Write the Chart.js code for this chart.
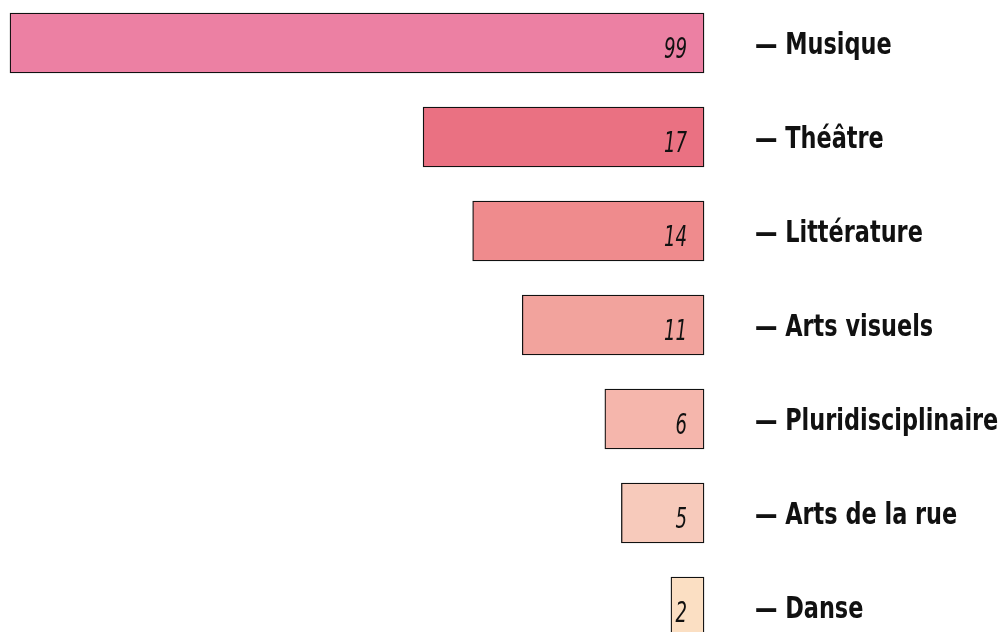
<!DOCTYPE html>
<html>
<head>
<meta charset="utf-8">
<script src="https://cdn.jsdelivr.net/npm/chart.js@4/dist/chart.umd.min.js"></script>
<style>
	html, body { margin: 0; padding: 0; background: #fff; overflow: hidden; width: 1006px; height: 632px; }
	#chart-box { position: absolute; left: 0; top: -4px; width: 1006px; height: 658px; }
</style>
</head>
<body>
<div id="chart-box"><canvas id="myChart" width="1006" height="658"></canvas></div>
<script>
const categories = ['Musique', 'Théâtre', 'Littérature', 'Arts visuels', 'Pluridisciplinaire', 'Arts de la rue', 'Danse'];
const counts = [99, 17, 14, 11, 6, 5, 2];
const barColors = ['#ec80a3', '#ea7182', '#ef8b8d', '#f2a39d', '#f5b6ac', '#f7cabb', '#fbdfc3'];

// the axis stops at 42, the longest bar is cut off at the left edge
const axisMax = 42;

// condensed text: the narrow font of the original is not installed
function drawNarrow(ctx, text, x, y, squeeze) {
	ctx.save();
	ctx.translate(x, y);
	ctx.scale(squeeze, 1);
	ctx.fillText(text, 0, 0);
	ctx.restore();
}

const barLabels = {
	id: 'barLabels',
	afterDatasetsDraw(chart) {
		const ctx = chart.ctx;
		const meta = chart.getDatasetMeta(0);
		const yScale = chart.scales.y;
		ctx.save();
		ctx.fillStyle = '#111';
		ctx.textBaseline = 'alphabetic';

		// values inside the bars
		ctx.font = 'italic 28px "DejaVu Sans Condensed", sans-serif';
		ctx.textAlign = 'right';
		meta.data.forEach((bar, i) => {
			drawNarrow(ctx, String(counts[i]), bar.base - 17, bar.y + 15, 0.72);
		});

		// category names on the right
		ctx.font = 'bold 30px "DejaVu Sans Condensed", sans-serif';
		ctx.textAlign = 'left';
		categories.forEach((c, i) => {
			drawNarrow(ctx, '— ' + c, yScale.left + 51, yScale.getPixelForTick(i) + 10.5, 0.83);
		});
		ctx.restore();
	}
};

const data = {
	labels: categories,
	datasets: [{
		data: counts.map(v => Math.min(v, axisMax)),
		backgroundColor: barColors,
		borderColor: '#111',
		borderWidth: 1.3,
		borderSkipped: false,
		barThickness: 60,
		clip: false
	}]
};

const config = {
	type: 'bar',
	data,
	options: {
		indexAxis: 'y',
		responsive: false,
		animation: false,
		layout: { padding: { left: 10, right: 0, top: 0, bottom: 0 } },
		plugins: {
			legend: { display: false },
			tooltip: { enabled: false }
		},
		scales: {
			x: { display: false, reverse: true, min: 0, max: axisMax },
			y: {
				position: 'right',
				grid: { display: false, drawTicks: false },
				border: { display: false },
				ticks: { display: false },
				afterFit(scale) {
					scale.width = 302;
					scale.paddingTop = 0;
					scale.paddingBottom = 0;
				}
			}
		}
	},
	plugins: [barLabels]
};

var myChart = new Chart(document.getElementById('myChart'), config);
</script>
</body>
</html>
